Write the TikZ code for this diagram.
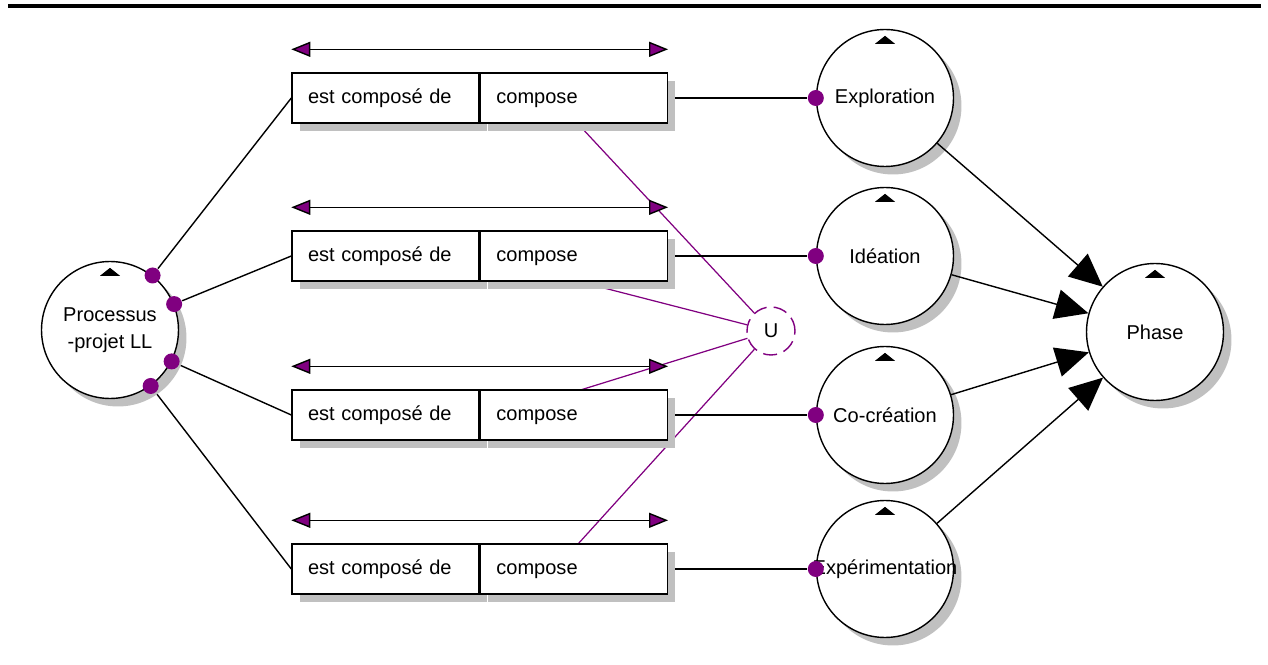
\documentclass[tikz,border=0pt]{standalone}
\usepackage{fontspec}
\setmainfont{Liberation Sans}
\usepackage{xcolor}
\usepackage{tikz}
\usetikzlibrary{positioning,arrows.meta,shadows,backgrounds}

\definecolor{lnk}{RGB}{128,0,128}
\definecolor{shd}{RGB}{192,192,192}

\begin{document}
\begin{tikzpicture}[x=0.02cm,y=-0.02cm,line width=0.8pt,
  font=\fontsize{11.4}{15.5}\selectfont,
  shd/.style={drop shadow={shadow xshift=0.16cm,shadow yshift=-0.16cm,fill=shd,opacity=1}},
  ent/.style={circle,draw,fill=white,minimum size=2.74cm,inner sep=0pt,shd},
  half/.style={rectangle,draw,fill=white,minimum width=3.74cm,minimum height=1cm,
    text width=3.1cm,inner xsep=0.32cm,align=left,text height=8.5pt,text depth=2.5pt,shd},
  dot/.style={circle,fill=lnk,inner sep=0pt,minimum size=0.32cm},
  role/.style={{Triangle[length=0.38cm,width=0.3cm,fill=lnk]}-{Triangle[length=0.38cm,width=0.3cm,fill=lnk]}},
  big/.style={-{Triangle[length=0.66cm,width=0.6cm]}},
  link/.style={draw=black,line width=0.8pt},
  ulink/.style={draw=lnk,line width=0.7pt}]
  \useasboundingbox (0,0) rectangle (1268,665);
  \draw[line width=0.07cm] (8,6) -- (1261,6);

  % entities
  \node[ent,label={[align=center]center:Processus\\-projet LL}] (pp) at (110,330) {};
  \node[ent,label=center:Exploration] (ex) at (885,98) {};
  \node[ent,label=center:Idéation] (id) at (885,256) {};
  \node[ent,label=center:Co-création] (cc) at (885,415) {};
  \node[ent,label=center:Expérimentation] (xp) at (885,569) {};
  \node[ent,label=center:Phase] (ph) at (1155,332) {};
  \foreach \n in {pp,ex,id,cc,xp,ph}
    \fill (\n.north) ++(0,7) -- ++(10,8) -- ++(-20,0) -- cycle;

  % relations
  \node[half] (l1) at (385.5,98) {est composé de};
  \node[half,right=0pt of l1] (r1) {compose};
  \node[half] (l2) at (385.5,256) {est composé de};
  \node[half,right=0pt of l2] (r2) {compose};
  \node[half] (l3) at (385.5,415) {est composé de};
  \node[half,right=0pt of l3] (r3) {compose};
  \node[half] (l4) at (385.5,569) {est composé de};
  \node[half,right=0pt of l4] (r4) {compose};
  \draw[role] ([yshift=0.46cm]l1.north west) -- ([yshift=0.46cm]r1.north east);
  \draw[role] ([yshift=0.46cm]l2.north west) -- ([yshift=0.46cm]r2.north east);
  \draw[role] ([yshift=0.46cm]l3.north west) -- ([yshift=0.46cm]r3.north east);
  \draw[role] ([yshift=0.46cm]l4.north west) -- ([yshift=0.46cm]r4.north east);

  % union
  \node[circle,draw=lnk,dash pattern=on 0.28cm off 0.14cm,minimum size=0.96cm,inner sep=0pt] (u) at (771,331) {U};
  \begin{scope}[on background layer]
    \draw[ulink] (u) -- ([xshift=-0.4cm]r1.center);
    \draw[ulink] (u) -- (r2.west);
    \draw[ulink] (u) -- ([xshift=0.4cm]r3.west);
    \draw[ulink] (u) -- ([xshift=-0.37cm]r4.center);
  \end{scope}

  % links
  \node[dot] (d1) at (pp.52) {};
  \node[dot] (d2) at (pp.22) {};
  \node[dot] (d3) at (pp.-27) {};
  \node[dot] (d4) at (pp.-54) {};
  \node[dot] (e1) at (ex.west) {};
  \node[dot] (e2) at (id.west) {};
  \node[dot] (e3) at (cc.west) {};
  \node[dot] (e4) at (xp.west) {};
  \begin{scope}[on background layer]
    \draw[link] (d1) -- (l1.west);
    \draw[link] (d2) -- (l2.west);
    \draw[link] (d3) -- (l3.west);
    \draw[link] (d4) -- (l4.west);
    \draw[link] (r1.east) -- (e1);
    \draw[link] (r2.east) -- (e2);
    \draw[link] (r3.east) -- (e3);
    \draw[link] (r4.east) -- (e4);
  \end{scope}
  \path[big]
    (ex) edge (ph)
    (id) edge (ph)
    (cc) edge (ph)
    (xp) edge (ph);
\end{tikzpicture}
\end{document}
